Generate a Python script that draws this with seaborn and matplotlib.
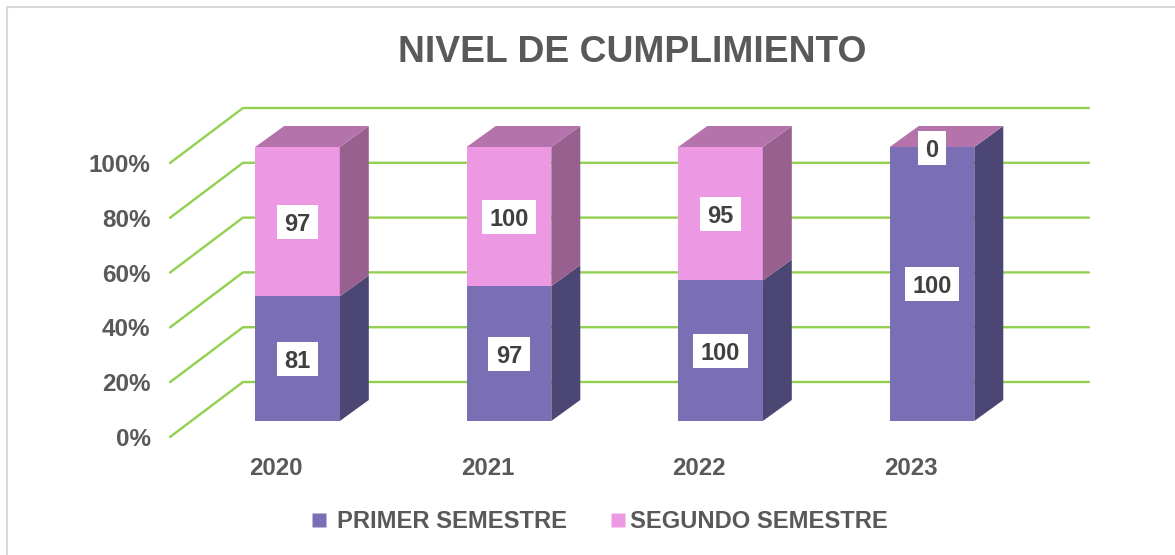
import numpy as np
import pandas as pd
import matplotlib
matplotlib.use("Agg")
import matplotlib.pyplot as plt
from matplotlib.patches import Polygon, Rectangle
from matplotlib.lines import Line2D
import seaborn as sns

years = ["2020", "2021", "2022", "2023"]
primer = [81, 97, 100, 100]
segundo = [97, 100, 95, 0]
pct_ticks = [0, 20, 40, 60, 80, 100]
title = "NIVEL DE CUMPLIMIENTO"
series_names = ["PRIMER SEMESTRE", "SEGUNDO SEMESTRE"]

W, H = 1175, 555
GRAY = "#595959"
GREEN = "#92D050"
C_PURPLE, C_PURPLE_SIDE = "#7A6EB4", "#4C4675"
C_PINK, C_PINK_SIDE, C_TOP = "#EC98E3", "#97608F", "#B573AB"

sns.set_theme(style="white")
plt.rcParams["font.family"] = ["Liberation Sans", "DejaVu Sans"]
plt.rcParams["font.weight"] = "bold"

fig = plt.figure(figsize=(W / 100, H / 100), dpi=100)
L, R, T, B = 170, 1089, 147, 421
per_cat = 211.5
per_pct = (B - T) / 100
y_low = -10  # room below the bars for the front end of the floor gridline
B_ext = B - y_low * per_pct
ax = fig.add_axes([L / W, 1 - B_ext / H, (R - L) / W, (B_ext - T) / H])

x0 = -(297.5 - L) / per_cat
x1 = x0 + (R - L) / per_cat

primer_arr = np.array(primer, float)
segundo_arr = np.array(segundo, float)
total = primer_arr + segundo_arr
share = primer_arr / total * 100
df = pd.DataFrame({"year": years, "share": share, "full": share + segundo_arr / total * 100})

front_drop = -16 / per_pct
wall_dx, wall_dy = 73 / per_cat, 55 / per_pct
for v in pct_ticks:
    y = v + front_drop
    ax.plot([x0, x0 + wall_dx, x1], [y, y + wall_dy, y + wall_dy], color=GREEN,
            lw=1.7, clip_on=False, zorder=1, solid_joinstyle="round")

sns.barplot(data=df, x="year", y="full", color=C_PINK, saturation=1, width=0.4,
            ax=ax, zorder=3, linewidth=0)
sns.barplot(data=df, x="year", y="share", color=C_PURPLE, saturation=1, width=0.4,
            ax=ax, zorder=4, linewidth=0)

ax.set_yticks([v + front_drop for v in pct_ticks], [f"{v}%" for v in pct_ticks])
ax.set_xticks([i - 21.5 / per_cat for i in range(len(years))], years)
ax.set_xlim(x0, x1)
ax.set_ylim(y_low, 100)
for sp in ax.spines.values():
    sp.set_visible(False)
ax.set_xlabel("")
ax.set_ylabel("")
ax.patch.set_alpha(0)
ax.tick_params(axis="y", length=0, pad=14, labelsize=17.5, labelcolor=GRAY)
ax.tick_params(axis="x", length=0, pad=6, labelsize=17.3, labelcolor=GRAY)
for t in ax.get_xticklabels() + ax.get_yticklabels():
    t.set_fontweight("bold")

renderer = fig.canvas.get_renderer()


def value_label(xc, yc, s):
    t = ax.text(xc, yc, s, ha="center", va="center_baseline", color="#404040",
                fontsize=17, fontweight="bold", zorder=7)
    w_px = t.get_window_extent(renderer).width + 15
    h_px = 34
    ax.add_patch(Rectangle((xc - w_px / 2 / per_cat, yc - h_px / 2 / per_pct),
                           w_px / per_cat, h_px / per_pct, fc="white", ec="none",
                           zorder=6, clip_on=False))


ddx, ddy = 29 / per_cat, 21 / per_pct
hw = 0.2
for i in range(len(years)):
    r = i + hw
    s, f = share[i], df["full"][i]
    ax.add_patch(Polygon([(r, 0), (r + ddx, ddy), (r + ddx, s + ddy), (r, s)],
                         fc=C_PURPLE_SIDE, ec="none", zorder=3, clip_on=False))
    if f > s:
        ax.add_patch(Polygon([(r, s), (r + ddx, s + ddy), (r + ddx, f + ddy), (r, f)],
                             fc=C_PINK_SIDE, ec="none", zorder=3, clip_on=False))
    ax.add_patch(Polygon([(i - hw, f), (r, f), (r + ddx, f + ddy), (i - hw + ddx, f + ddy)],
                         fc=C_TOP, ec="none", zorder=3, clip_on=False))
    value_label(i, s / 2, str(primer[i]))
    value_label(i, (s + f) / 2 if f > s else f - 0.4, str(segundo[i]))

fig.text(632 / W, 1 - 53 / H, title, ha="center", va="center", color=GRAY,
         fontsize=26.8, fontweight="bold")

mk_purple = Line2D([], [], marker="s", ls="", ms=9.5, mfc=C_PURPLE, mec="none")
mk_pink = Line2D([], [], marker="s", ls="", ms=9.5, mfc=C_PINK, mec="none")
for handle, name, xpos, pad in [(mk_purple, series_names[0], 312, 0.46),
                                (mk_pink, series_names[1], 611, 0.21)]:
    leg = fig.legend([handle], [name], loc="center left",
                     bbox_to_anchor=(xpos / W, 1 - 522 / H), frameon=False, labelcolor=GRAY,
                     handlelength=0.6, handletextpad=pad, borderpad=0, borderaxespad=0,
                     prop={"size": 17.1, "weight": "bold"})

fig.add_artist(Line2D([7 / W, 7 / W, 1], [0, 1 - 7 / H, 1 - 7 / H], color="#D9D9D9", lw=1.5))

fig.savefig("out.png", dpi=100)
